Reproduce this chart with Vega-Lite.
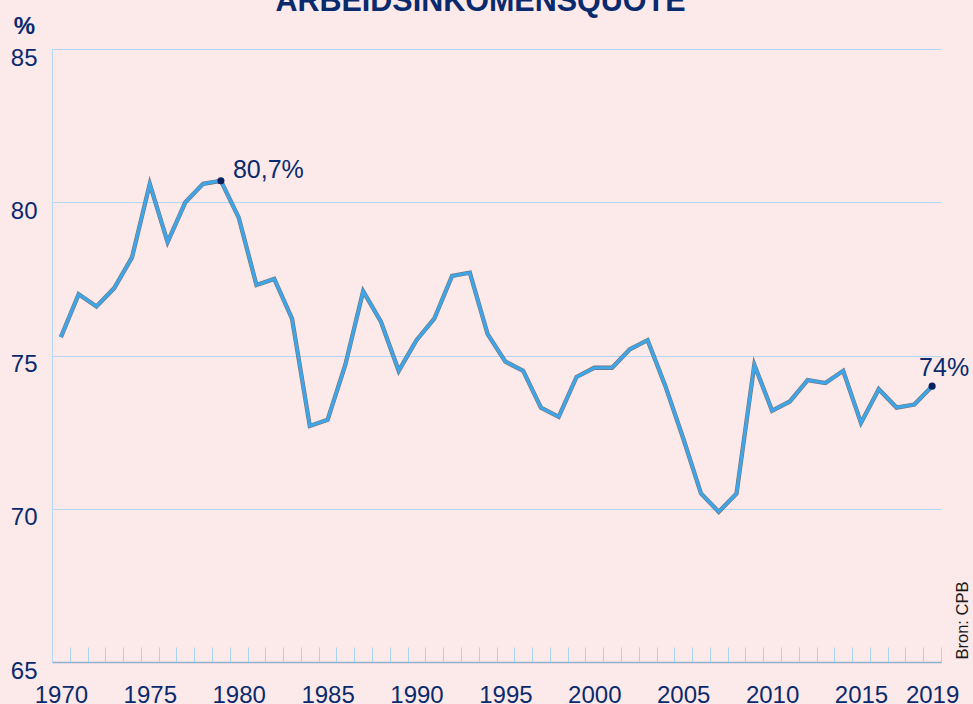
{
  "$schema": "https://vega.github.io/schema/vega-lite/v6.json",
  "autosize": {"type": "none"},
  "padding": {"left": 52, "top": 49, "right": 32, "bottom": 42},
  "width": 889,
  "height": 613,
  "background": "#fce9e9",
  "config": {
    "view": {"stroke": null},
    "font": "Liberation Sans"
  },
  "title": {
    "text": "ARBEIDSINKOMENSQUOTE",
    "font": "Liberation Sans",
    "fontSize": 30.5,
    "fontWeight": "bold",
    "color": "#0a2a6e",
    "anchor": "middle",
    "frame": "group",
    "baseline": "alphabetic",
    "dx": -16,
    "offset": -27
  },
  "datasets": {
    "series": [
      {"year": 1970, "value": 75.6}, {"year": 1971, "value": 77.0}, {"year": 1972, "value": 76.6},
      {"year": 1973, "value": 77.2}, {"year": 1974, "value": 78.2}, {"year": 1975, "value": 80.6},
      {"year": 1976, "value": 78.7}, {"year": 1977, "value": 80.0}, {"year": 1978, "value": 80.6},
      {"year": 1979, "value": 80.7}, {"year": 1980, "value": 79.5}, {"year": 1981, "value": 77.3},
      {"year": 1982, "value": 77.5}, {"year": 1983, "value": 76.2}, {"year": 1984, "value": 72.7},
      {"year": 1985, "value": 72.9}, {"year": 1986, "value": 74.7}, {"year": 1987, "value": 77.1},
      {"year": 1988, "value": 76.1}, {"year": 1989, "value": 74.5}, {"year": 1990, "value": 75.5},
      {"year": 1991, "value": 76.2}, {"year": 1992, "value": 77.6}, {"year": 1993, "value": 77.7},
      {"year": 1994, "value": 75.7}, {"year": 1995, "value": 74.8}, {"year": 1996, "value": 74.5},
      {"year": 1997, "value": 73.3}, {"year": 1998, "value": 73.0}, {"year": 1999, "value": 74.3},
      {"year": 2000, "value": 74.6}, {"year": 2001, "value": 74.6}, {"year": 2002, "value": 75.2},
      {"year": 2003, "value": 75.5}, {"year": 2004, "value": 74.0}, {"year": 2005, "value": 72.3},
      {"year": 2006, "value": 70.5}, {"year": 2007, "value": 69.9}, {"year": 2008, "value": 70.5},
      {"year": 2009, "value": 74.7}, {"year": 2010, "value": 73.2}, {"year": 2011, "value": 73.5},
      {"year": 2012, "value": 74.2}, {"year": 2013, "value": 74.1}, {"year": 2014, "value": 74.5},
      {"year": 2015, "value": 72.8}, {"year": 2016, "value": 73.9}, {"year": 2017, "value": 73.3},
      {"year": 2018, "value": 73.4}, {"year": 2019, "value": 74.0}
    ],
    "notes": [
      {"year": 1979, "value": 80.7, "label": "80,7%", "pos": "a"},
      {"year": 2019, "value": 74.0, "label": "74%", "pos": "b"}
    ]
  },
  "layer": [
    {
      "data": {"name": "series"},
      "mark": {"type": "line", "color": "#4a4a4a", "strokeWidth": 4.3, "opacity": 0.75},
      "encoding": {
        "x": {
          "field": "year", "type": "quantitative",
          "scale": {"domain": [1969.5, 2019.5], "nice": false, "zero": false},
          "axis": {
            "orient": "bottom",
            "values": [1970, 1975, 1980, 1985, 1990, 1995, 2000, 2005, 2010, 2015, 2019],
            "format": "d",
            "title": null,
            "ticks": false,
            "domain": false,
            "grid": false,
            "labelFont": "Liberation Sans",
            "labelFontSize": 24,
            "labelColor": "#0a2a6e",
            "labelBaseline": "top",
            "labelPadding": 21,
            "labelFlush": false,
            "labelOverlap": false
          }
        },
        "y": {
          "field": "value", "type": "quantitative",
          "scale": {"domain": [65, 85], "nice": false, "zero": false},
          "axis": {
            "orient": "left",
            "values": [65, 70, 75, 80, 85],
            "title": "%",
            "titleAngle": 0,
            "titleX": -28,
            "titleY": -16,
            "titleAlign": "center",
            "titleBaseline": "alphabetic",
            "titleFont": "Liberation Sans",
            "titleFontSize": 24,
            "titleFontWeight": "bold",
            "titleColor": "#0a2a6e",
            "ticks": false,
            "domain": true,
            "domainColor": "#b3d7f5",
            "domainWidth": 1,
            "grid": true,
            "gridColor": "#b3d7f5",
            "gridWidth": 1,
            "labelFont": "Liberation Sans",
            "labelFontSize": 24,
            "labelColor": "#0a2a6e",
            "labelBaseline": "middle",
            "labelPadding": 15,
            "labelOffset": 9,
            "labelFlush": false,
            "labelOverlap": false
          }
        }
      }
    },
    {
      "data": {"name": "series"},
      "mark": {"type": "line", "color": "#3ea6e8", "strokeWidth": 3.2},
      "encoding": {
        "x": {
          "field": "year", "type": "quantitative",
          "axis": {
            "orient": "bottom",
            "values": [1969.5, 1970.5, 1971.5, 1972.5, 1973.5, 1974.5, 1975.5, 1976.5, 1977.5, 1978.5,
                       1979.5, 1980.5, 1981.5, 1982.5, 1983.5, 1984.5, 1985.5, 1986.5, 1987.5, 1988.5,
                       1989.5, 1990.5, 1991.5, 1992.5, 1993.5, 1994.5, 1995.5, 1996.5, 1997.5, 1998.5,
                       1999.5, 2000.5, 2001.5, 2002.5, 2003.5, 2004.5, 2005.5, 2006.5, 2007.5, 2008.5,
                       2009.5, 2010.5, 2011.5, 2012.5, 2013.5, 2014.5, 2015.5, 2016.5, 2017.5, 2018.5, 2019.5],
            "title": null,
            "labels": false,
            "ticks": true,
            "tickSize": -15,
            "tickColor": "#a9d3f5",
            "tickWidth": 1,
            "domain": true,
            "domainColor": "#8fb0cf",
            "domainWidth": 1.6,
            "grid": false
          }
        },
        "y": {
          "field": "value", "type": "quantitative",
          "axis": {
            "orient": "right",
            "title": "Bron: CPB",
            "titleAngle": 270,
            "titleX": 26,
            "titleY": 610,
            "titleAlign": "left",
            "titleBaseline": "alphabetic",
            "titleFont": "Liberation Sans",
            "titleFontSize": 16.5,
            "titleFontWeight": "normal",
            "titleColor": "#1a1a1a",
            "labels": false,
            "ticks": false,
            "domain": false,
            "grid": false
          }
        }
      }
    },
    {
      "data": {"name": "notes"},
      "mark": {"type": "circle", "color": "#0a2060", "size": 50, "opacity": 1},
      "encoding": {
        "x": {"field": "year", "type": "quantitative", "axis": null},
        "y": {"field": "value", "type": "quantitative", "axis": null}
      }
    },
    {
      "data": {"name": "notes"},
      "transform": [{"filter": "datum.pos == 'a'"}],
      "mark": {"type": "text", "color": "#0a2a6e", "font": "Liberation Sans", "fontSize": 25, "align": "left", "baseline": "alphabetic", "dx": 12, "dy": -3},
      "encoding": {
        "x": {"field": "year", "type": "quantitative", "axis": null},
        "y": {"field": "value", "type": "quantitative", "axis": null},
        "text": {"field": "label"}
      }
    },
    {
      "data": {"name": "notes"},
      "transform": [{"filter": "datum.pos == 'b'"}],
      "mark": {"type": "text", "color": "#0a2a6e", "font": "Liberation Sans", "fontSize": 25, "align": "left", "baseline": "alphabetic", "dx": -13, "dy": -10},
      "encoding": {
        "x": {"field": "year", "type": "quantitative", "axis": null},
        "y": {"field": "value", "type": "quantitative", "axis": null},
        "text": {"field": "label"}
      }
    }
  ],
  "resolve": {"axis": {"x": "independent", "y": "independent"}}
}
